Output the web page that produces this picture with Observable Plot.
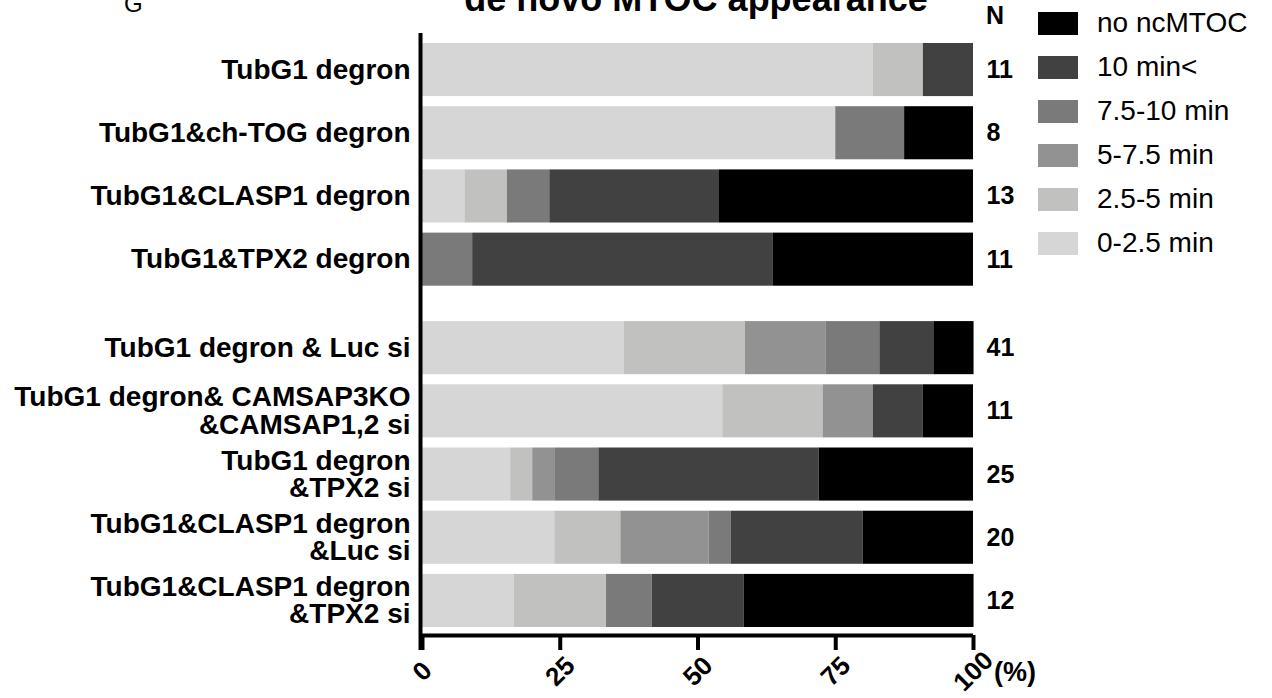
<!DOCTYPE html>
<html>
<head>
<meta charset="utf-8">
<script src="https://cdn.jsdelivr.net/npm/d3@7"></script>
<script src="https://cdn.jsdelivr.net/npm/@observablehq/plot@0.6"></script>
<style>
  body { margin: 0; background: #fff; }
  #wrap { position: relative; width: 1272px; height: 698px; overflow: hidden;
          font-family: "Liberation Sans", Arial, Helvetica, sans-serif; color: #000; }
  #wrap svg { position: absolute; left: 0; top: 0; }
  .abs { position: absolute; white-space: nowrap; }
  g[aria-label="x-axis tick label"] text { font-size: 26px; font-weight: bold; }
</style>
</head>
<body>
<div id="wrap"></div>
<script>
// ---------------- data ----------------
const categories = ["0-2.5 min", "2.5-5 min", "5-7.5 min", "7.5-10 min", "10 min<", "no ncMTOC"];
const colors = ["#d6d6d6", "#c1c1bf", "#929292", "#7a7a7a", "#414141", "#000000"];

const conditions = [
  "TubG1 degron",
  "TubG1&ch-TOG degron",
  "TubG1&CLASP1 degron",
  "TubG1&TPX2 degron",
  "TubG1 degron & Luc si",
  "TubG1 degron& CAMSAP3KO\n&CAMSAP1,2 si",
  "TubG1 degron\n&TPX2 si",
  "TubG1&CLASP1 degron\n&Luc si",
  "TubG1&CLASP1 degron\n&TPX2 si"
];
const nValues = [11, 8, 13, 11, 41, 11, 25, 20, 12];

// percentages per time category (one value per condition)
const pct0_2_5   = [81.8, 75.0,  7.7,  0.0, 36.6, 54.5, 16.0, 24.0, 16.7];
const pct2_5_5   = [ 9.1,  0.0,  7.7,  0.0, 22.0, 18.2,  4.0, 12.0, 16.7];
const pct5_7_5   = [ 0.0,  0.0,  0.0,  0.0, 14.6,  9.1,  4.0, 16.0,  0.0];
const pct7_5_10  = [ 0.0, 12.5,  7.7,  9.1,  9.8,  0.0,  8.0,  4.0,  8.3];
const pct10plus  = [ 9.1,  0.0, 30.8, 54.5,  9.8,  9.1, 40.0, 24.0, 16.7];
const pctNoMTOC  = [ 0.0, 12.5, 46.1, 36.4,  7.3,  9.1, 28.0, 20.0, 41.7];

const xTicks = [0, 25, 50, 75, 100];

// ---------------- layout ----------------
const series = [pct0_2_5, pct2_5_5, pct5_7_5, pct7_5_10, pct10plus, pctNoMTOC];
const GAP = 0.4;          // extra space between the two groups (in row units)
const HALF = 0.42;        // half bar thickness (in row units)
const rowPos = (i) => i + (i >= 4 ? GAP : 0);
const UNIT = 63.2;        // px per row unit
const yTop = -HALF - 10 / UNIT;
const yBottom = rowPos(conditions.length - 1) + HALF + 8 / UNIT;

const rows = conditions.map((c, i) => ({label: c, n: nValues[i], pos: rowPos(i)}));
const segments = [];
conditions.forEach((c, i) => {
  let acc = 0;
  series.forEach((s, k) => {
    const v = s[i];
    if (v > 0) segments.push({cond: c, cat: categories[k], x1: acc, x2: acc + v, pos: rowPos(i)});
    acc += v;
  });
});

const chart = Plot.plot({
  width: 1272,
  height: 698,
  marginLeft: 422,
  marginRight: 299,
  marginTop: 33,
  marginBottom: 63,
  style: {fontFamily: "Liberation Sans, Arial, Helvetica, sans-serif", background: "transparent", overflow: "visible", color: "#000"},
  x: {domain: [0, 100], axis: null},
  y: {domain: [yTop, yBottom], reverse: true, axis: null},
  color: {domain: categories, range: colors},
  marks: [
    Plot.rect(segments, {x1: "x1", x2: "x2", y1: d => d.pos - HALF, y2: d => d.pos + HALF, fill: "cat"}),
    Plot.ruleX([0], {y1: yTop, y2: yBottom + 15 / UNIT, stroke: "#000", strokeWidth: 4, dx: -2}),
    Plot.ruleY([yBottom], {stroke: "#000", strokeWidth: 4}),
    Plot.axisX({ticks: xTicks, tickSize: 15, strokeWidth: 4, stroke: "#000", tickRotate: -45,
                textAnchor: "middle", lineAnchor: "middle", tickPadding: 21, label: null,
                fontSize: 26, fontWeight: "bold", tickFormat: d => String(d)}),
    Plot.text(rows, {x: 0, y: "pos", text: "label", textAnchor: "end", dx: -12,
                     fontSize: 28, fontWeight: "bold", lineHeight: 0.98, fill: "#000"}),
    Plot.text(rows, {x: 100, y: "pos", text: d => String(d.n), textAnchor: "start", dx: 13,
                     fontSize: 25, fontWeight: "bold", fill: "#000"})
  ]
});

const wrap = document.getElementById("wrap");
wrap.appendChild(chart);

function addText(txt, left, capCenter, size, weight, extra) {
  const d = document.createElement("div");
  d.className = "abs";
  d.textContent = txt;
  d.style.left = left + "px";
  d.style.fontSize = size + "px";
  d.style.lineHeight = size + "px";
  d.style.fontWeight = weight;
  d.style.top = (capCenter - size * 0.49) + "px";
  if (extra) Object.assign(d.style, extra);
  wrap.appendChild(d);
  return d;
}

// panel letter and title (top partly cut off as in the source)
addText("G", 124, 12 - 24 * 0.36, 24, "normal");
addText("de novo MTOC appearance", 0, 12 - 36 * 0.36, 36, "bold",
  {width: "1392px", left: "0px", textAlign: "center"});
// N header
addText("N", 986, 15, 25, "bold");
// (%) unit
addText("(%)", 994, 672, 27, "bold");

// legend
const color = chart.scale("color");
categories.slice().reverse().forEach((c, k) => {
  const cy = 23 + 44 * k;
  const sw = document.createElement("div");
  sw.className = "abs";
  Object.assign(sw.style, {left: "1038px", top: (cy - 11.5) + "px", width: "40px", height: "23px",
                           background: color.apply(c)});
  wrap.appendChild(sw);
  addText(c, 1097, cy, 28, "normal");
});
</script>
</body>
</html>
